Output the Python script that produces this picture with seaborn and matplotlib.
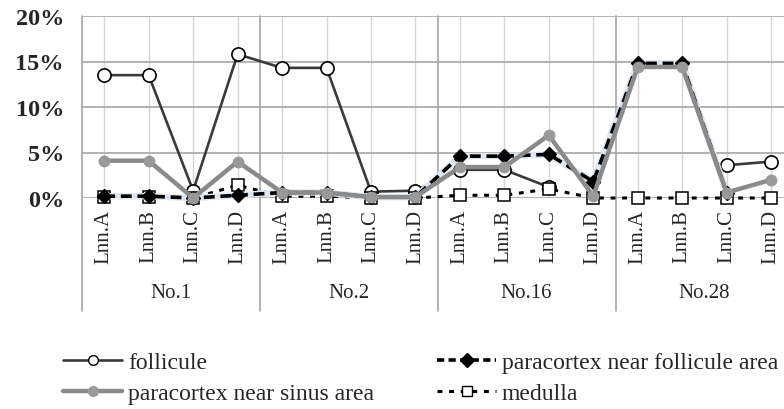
import numpy as np
import pandas as pd
import matplotlib
matplotlib.use("Agg")
import matplotlib.pyplot as plt
from matplotlib.lines import Line2D
import seaborn as sns

# Sites and lymph-node labels
groups = ["No.1", "No.2", "No.16", "No.28"]
nodes = ["Lnn.A", "Lnn.B", "Lnn.C", "Lnn.D"]
tick_labels = nodes * len(groups)

# Proportions (%) per node; NaN = not measured
follicule = [13.5, 13.5, 0.8, 15.8, 14.3, 14.3, 0.7, 0.8,
             3.1, 3.1, 1.2, np.nan, np.nan, np.nan, 3.6, 4.0]
para_follicule = [0.2, 0.2, 0.0, 0.3, 0.6, 0.6, 0.1, 0.1,
                  4.6, 4.6, 4.8, 1.8, 14.8, 14.8, 0.6, np.nan]
para_sinus = [4.1, 4.1, 0.0, 4.0, 0.6, 0.6, 0.1, 0.1,
              3.4, 3.4, 6.9, 0.2, 14.4, 14.4, 0.6, 2.0]
medulla = [0.1, 0.1, 0.0, 1.4, 0.2, 0.2, 0.0, 0.0,
           0.3, 0.3, 1.0, 0.0, 0.0, 0.0, 0.0, 0.0]

series = {
    "follicule": follicule,
    "paracortex near follicule area": para_follicule,
    "paracortex near sinus area": para_sinus,
    "medulla": medulla,
}

# Long table; 'seg' splits a series into runs separated by missing values
rows = []
for name, vals in series.items():
    seg = 0
    prev_nan = False
    for i, v in enumerate(vals):
        if np.isnan(v):
            prev_nan = True
            continue
        if prev_nan:
            seg += 1
            prev_nan = False
        rows.append({"series": name, "x": i, "value": v / 100.0, "seg": seg})
df = pd.DataFrame(rows)

sns.set_style("white")
plt.rcParams["font.family"] = ["Liberation Serif", "DejaVu Serif"]

W, H = 784, 410
fig = plt.figure(figsize=(W / 100, H / 100), dpi=100)
ax = fig.add_axes([82 / W, 1 - 199 / H, 1 - 82 / W, (199 - 17) / H])

GLOW = "#dde7f1"
styles = {
    "follicule": dict(color="#3a3a3a", lw=1.9, marker="o", ms=9.5,
                      mfc="white", mec="black", mew=1.2, ls="-", z=3),
    "medulla": dict(color="black", lw=2.2, marker="s", ms=8.5,
                    mfc="white", mec="black", mew=1.1, ls=(0, (1.6, 2.2)), z=4),
    "paracortex near follicule area": dict(color="black", lw=2.6, marker="D", ms=7.5,
                                           mfc="black", mec="black", mew=1.0,
                                           ls=(0, (3, 1.6)), z=5),
    "paracortex near sinus area": dict(color="#8a8a8a", lw=3.2, marker="o", ms=7.5,
                                       mfc="#999999", mec="#999999", mew=1.0,
                                       ls="-", z=6),
}


def draw(sub, st, **over):
    kw = dict(color=st["color"], lw=st["lw"], marker=st["marker"],
              markersize=st["ms"], markerfacecolor=st["mfc"],
              markeredgecolor=st["mec"], markeredgewidth=st["mew"])
    kw.update(over)
    n_before = len(ax.lines)
    sns.lineplot(data=sub, x="x", y="value", units="seg", estimator=None,
                 sort=False, ax=ax, legend=False, **kw)
    return ax.lines[n_before:]


for name in ["follicule", "medulla", "paracortex near follicule area",
             "paracortex near sinus area"]:
    st = styles[name]
    sub = df[df["series"] == name]
    if name == "paracortex near follicule area":
        # pale halo under the dashed line
        for ln in draw(sub, st, color=GLOW, lw=st["lw"] + 2.0, marker=None):
            ln.set_zorder(st["z"] - 0.1)
            ln.set_clip_on(False)
    for ln in draw(sub, st):
        ln.set_linestyle(st["ls"])
        ln.set_zorder(st["z"])
        ln.set_clip_on(False)

n = len(tick_labels)
ax.set_xlim(-0.5, 15.29)
ax.set_ylim(0, 0.20)
yt = np.arange(0, 0.201, 0.05)
ax.set_yticks(yt)
ax.set_yticklabels([f"{int(round(t * 100))}%" for t in yt],
                   fontsize=17.5, fontweight="bold")
ax.set_xticks(range(n))
ax.set_xticklabels(tick_labels, rotation=90, fontsize=15)
ax.tick_params(axis="x", length=0, pad=8)
ax.tick_params(axis="y", length=0, pad=13)
ax.set_xlabel("")
ax.set_ylabel("")

# Gridlines
for yv in yt:
    ax.axhline(yv, color="#a6a6a6", lw=1.2, zorder=1)
for i in range(n):
    ax.axvline(i, color="#d6d6d6", lw=1.0, zorder=0.5)

for s in ["top", "right", "bottom", "left"]:
    ax.spines[s].set_visible(False)

# Left axis and group separators running down through the label area
px = 199 - 17
axis_bottom = -(312 - 199) / px
for xb in [-0.5, 3.5, 7.5, 11.5]:
    ax.axvline(xb, ymin=axis_bottom, ymax=1.0, color="#a6a6a6", lw=1.2,
               clip_on=False, zorder=1)

# Group labels
for gi, g in enumerate(groups):
    ax.text(gi * 4 + 1.5, -(293 - 199) / px, g,
            transform=ax.get_xaxis_transform(), ha="center", va="center",
            fontsize=15)

# Legend in two columns
h_foll = Line2D([], [], color="#3a3a3a", lw=1.9, marker="o", ms=7, mfc="white",
                mec="black", mew=1.0)
h_sinus = Line2D([], [], color="#8a8a8a", lw=3.2, marker="o", ms=7,
                 mfc="#999999", mec="#999999")
h_pf = Line2D([], [], color="black", lw=2.6, ls=(0, (2, 1.2)), marker="D", ms=7,
              mfc="black", mec="black")
h_med = Line2D([], [], color="black", lw=2.2, ls=(0, (1.6, 2.2)), marker="s", ms=7,
               mfc="white", mec="black", mew=1.0)

common = dict(frameon=False, fontsize=17, handlelength=2.5,
              handletextpad=0.25, labelspacing=0.42, borderpad=0,
              borderaxespad=0, loc="center left")
fig.legend([h_foll, h_sinus], ["follicule", "paracortex near sinus area"],
           bbox_to_anchor=(63 / W, 1 - 379 / H), **common)
fig.legend([h_pf, h_med], ["paracortex near follicule area", "medulla"],
           bbox_to_anchor=(437 / W, 1 - 379 / H), **common)

fig.savefig("out.png", dpi=100, facecolor="white")
